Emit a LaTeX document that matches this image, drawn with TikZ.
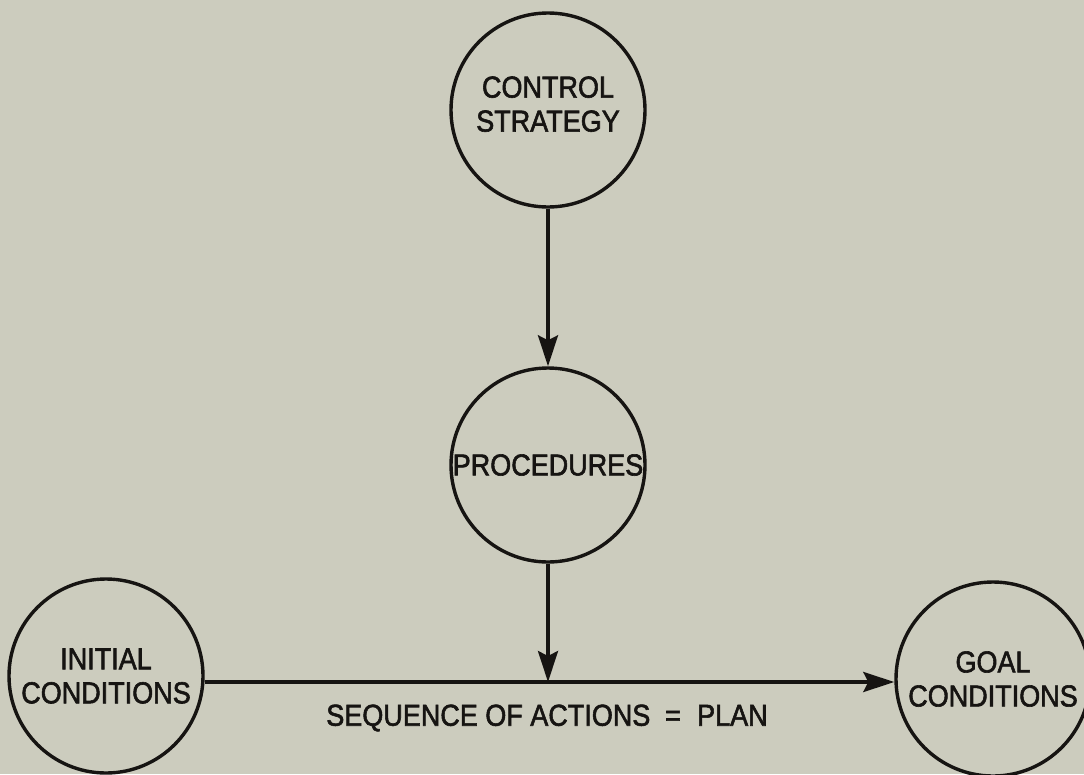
\documentclass[tikz,border=0pt]{standalone}
\usepackage{fontspec}
\usepackage{graphicx}
\setmainfont{Liberation Sans}
\newfontfamily\hv[FakeBold=2]{Liberation Sans}
\usetikzlibrary{arrows.meta}
\definecolor{paper}{RGB}{204,204,190}
\definecolor{ink}{RGB}{22,20,18}
\newcommand{\tl}[1]{\scalebox{1}[1.12]{#1}}
\tikzset{
  circ/.style={circle, draw=ink, line width=3.4pt, minimum size=194pt, inner sep=0pt,
    align=center, font=\hv\fontsize{27}{34}\selectfont, text=ink},
  arr/.style={draw=ink, line width=3.4pt, -{Stealth[length=31pt,width=20pt,inset=5pt]}},
  lbl/.style={font=\hv\fontsize{27}{34}\selectfont, text=ink, inner sep=0pt}
}
\begin{document}
\begin{tikzpicture}[x=1pt,y=-1pt]
\fill[paper] (0,0) rectangle (1084,774);
\useasboundingbox (0,0) rectangle (1084,774);
\node[circ] (cs) at (548,110) {\tl{CONTROL}\\\tl{STRATEGY}\rule[-12pt]{0pt}{12pt}};
\node[circ] (proc) at (548,465) {\tl{PROCEDURES}};
\node[circ] (init) at (106,676) {\tl{INITIAL}\\\tl{CONDITIONS}};
\node[circ] (goal) at (993,679) {\tl{GOAL}\\\tl{CONDITIONS}};
\coordinate (plan) at (548,682);
\node[lbl] (seq) at (547,718) {\tl{SEQUENCE OF ACTIONS\hspace{0.55em}=\hspace{0.6em}PLAN}};
\draw[arr] (cs) -- (proc);
\draw[arr] (proc.south) -- (plan);
\draw[arr] (init.east |- plan) -- (goal.west |- plan);
\end{tikzpicture}
\end{document}
